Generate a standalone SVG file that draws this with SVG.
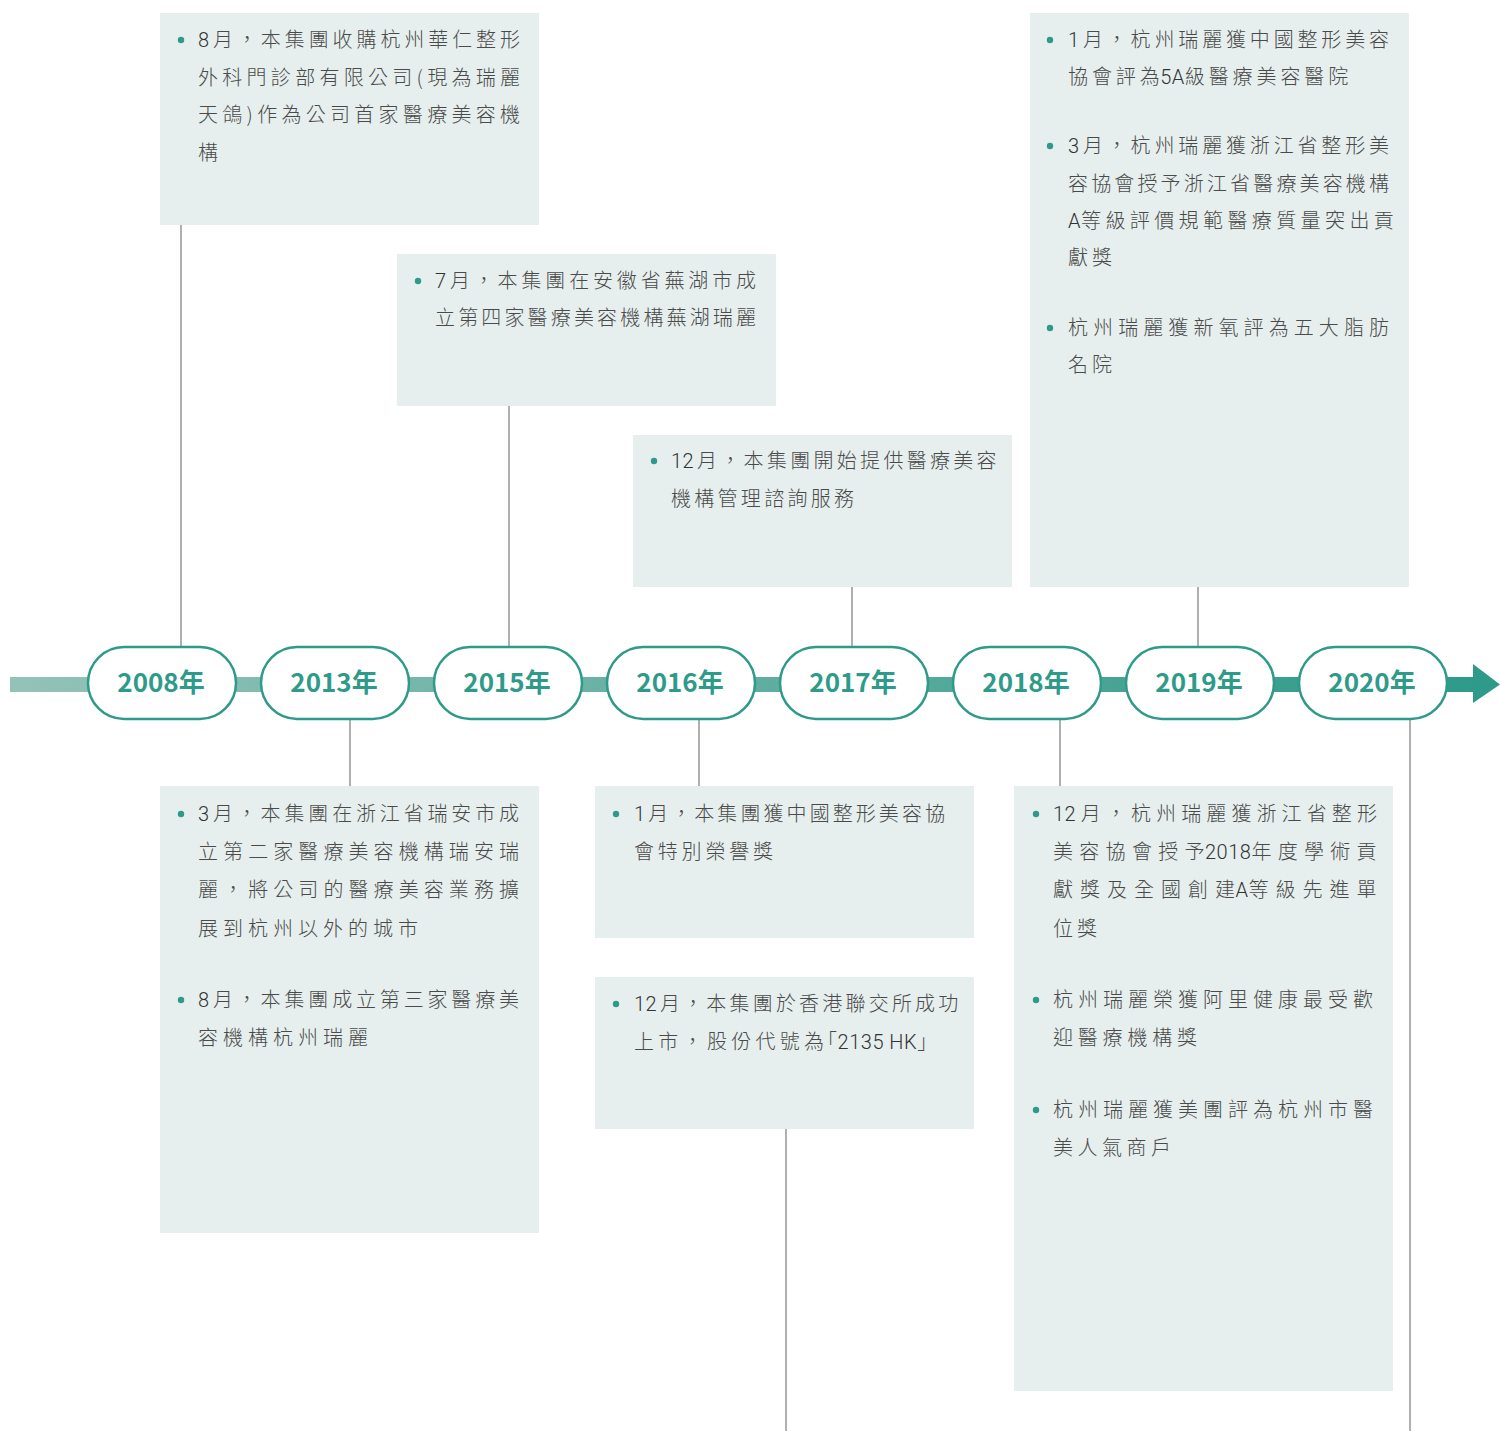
<svg xmlns="http://www.w3.org/2000/svg" width="1500" height="1431" viewBox="0 0 1500 1431">
<style>
.box{fill:#e6efee}
.ln{stroke:#7a7a7a;stroke-width:1.2;fill:none}
.pill{fill:#ffffff;stroke:#2e9a89;stroke-width:2.5}
.yr{font-family:"Noto Sans CJK TC","Noto Sans",sans-serif;font-weight:700;font-size:26px;fill:#2e9a89;text-anchor:middle}
.t{font-family:"Noto Sans CJK TC","Noto Sans",sans-serif;font-weight:300;font-size:20px;fill:#4a4a4a;letter-spacing:4px}
.d{font-family:Roboto,"Noto Sans CJK TC",sans-serif;font-weight:300;fill:#333333}
.b{fill:#2e9a89}
</style>
<defs>
<linearGradient id="bar" x1="10" y1="0" x2="1480" y2="0" gradientUnits="userSpaceOnUse">
<stop offset="0" stop-color="#93c2b8"/>
<stop offset="1" stop-color="#2e9a89"/>
</linearGradient>
</defs>
<rect x="0" y="0" width="1500" height="1431" fill="#ffffff"/>

<g id="connectors">
<line class="ln" x1="181" y1="225" x2="181" y2="646"/>
<line class="ln" x1="509" y1="406" x2="509" y2="646"/>
<line class="ln" x1="852" y1="587" x2="852" y2="646"/>
<line class="ln" x1="1198" y1="587" x2="1198" y2="646"/>
<line class="ln" x1="350" y1="720" x2="350" y2="786"/>
<line class="ln" x1="699" y1="720" x2="699" y2="786"/>
<line class="ln" x1="786" y1="1129" x2="786" y2="1431"/>
<line class="ln" x1="1060" y1="720" x2="1060" y2="786"/>
<line class="ln" x1="1410" y1="720" x2="1410" y2="1431"/>
</g>

<g id="timeline">
<rect x="10" y="677" width="1465" height="15" fill="url(#bar)"/>
<polygon points="1473,664 1500,684.5 1473,703" fill="#2e9a89"/>
</g>

<g id="year-2008"><rect class="pill" x="88" y="647" width="148" height="72" rx="36"/><text class="yr" x="161" y="692">2008年</text></g>
<g id="year-2013"><rect class="pill" x="261" y="647" width="148" height="72" rx="36"/><text class="yr" x="334" y="692">2013年</text></g>
<g id="year-2015"><rect class="pill" x="434" y="647" width="148" height="72" rx="36"/><text class="yr" x="507" y="692">2015年</text></g>
<g id="year-2016"><rect class="pill" x="607" y="647" width="148" height="72" rx="36"/><text class="yr" x="680" y="692">2016年</text></g>
<g id="year-2017"><rect class="pill" x="780" y="647" width="148" height="72" rx="36"/><text class="yr" x="853" y="692">2017年</text></g>
<g id="year-2018"><rect class="pill" x="953" y="647" width="148" height="72" rx="36"/><text class="yr" x="1026" y="692">2018年</text></g>
<g id="year-2019"><rect class="pill" x="1126" y="647" width="148" height="72" rx="36"/><text class="yr" x="1199" y="692">2019年</text></g>
<g id="year-2020"><rect class="pill" x="1299" y="647" width="148" height="72" rx="36"/><text class="yr" x="1372" y="692">2020年</text></g>

<g id="box-2008">
<rect class="box" x="160" y="13" width="379" height="212"/>
<circle class="b" cx="181" cy="40" r="3.2"/>
<text class="t" x="198" y="47" textLength="326" lengthAdjust="spacing"><tspan class="d">8</tspan>月，本集團收購杭州華仁整形</text>
<text class="t" x="198" y="84.5" textLength="326" lengthAdjust="spacing">外科門診部有限公司(現為瑞麗</text>
<text class="t" x="198" y="122" textLength="326" lengthAdjust="spacing">天鴿)作為公司首家醫療美容機</text>
<text class="t" x="198" y="159.5">構</text>
</g>

<g id="box-2015">
<rect class="box" x="397" y="254" width="379" height="152"/>
<circle class="b" cx="418" cy="281" r="3.2"/>
<text class="t" x="435" y="288" textLength="325" lengthAdjust="spacing"><tspan class="d">7</tspan>月，本集團在安徽省蕪湖市成</text>
<text class="t" x="435" y="325" textLength="325" lengthAdjust="spacing">立第四家醫療美容機構蕪湖瑞麗</text>
</g>

<g id="box-2017">
<rect class="box" x="633" y="435" width="379" height="152"/>
<circle class="b" cx="654" cy="461" r="3.2"/>
<text class="t" x="671" y="468" style="letter-spacing:3.3px"><tspan class="d" style="letter-spacing:0.5px">1</tspan><tspan class="d">2</tspan>月，本集團開始提供醫療美容</text>
<text class="t" x="671" y="506" textLength="187" lengthAdjust="spacing">機構管理諮詢服務</text>
</g>

<g id="box-2019">
<rect class="box" x="1030" y="13" width="379" height="574"/>
<circle class="b" cx="1050" cy="40" r="3.2"/>
<text class="t" x="1068" y="47" textLength="325" lengthAdjust="spacing"><tspan class="d">1</tspan>月，杭州瑞麗獲中國整形美容</text>
<text class="t" x="1068" y="84" style="letter-spacing:3.9px">協會評<tspan style="letter-spacing:0.5px">為<tspan class="d">5A</tspan></tspan>級醫療美容醫院</text>
<circle class="b" cx="1050" cy="146" r="3.2"/>
<text class="t" x="1068" y="153" textLength="325" lengthAdjust="spacing"><tspan class="d">3</tspan>月，杭州瑞麗獲浙江省整形美</text>
<text class="t" x="1068" y="191" textLength="325" lengthAdjust="spacing">容協會授予浙江省醫療美容機構</text>
<text class="t" x="1068" y="228" style="letter-spacing:4.4px"><tspan class="d" style="letter-spacing:0.5px">A</tspan>等級評價規範醫療質量突出貢</text>
<text class="t" x="1068" y="265">獻獎</text>
<circle class="b" cx="1050" cy="328" r="3.2"/>
<text class="t" x="1068" y="335" textLength="325" lengthAdjust="spacing">杭州瑞麗獲新氧評為五大脂肪</text>
<text class="t" x="1068" y="372">名院</text>
</g>

<g id="box-2013">
<rect class="box" x="160" y="786" width="379" height="447"/>
<circle class="b" cx="181" cy="814" r="3.2"/>
<text class="t" x="198" y="821" textLength="325" lengthAdjust="spacing"><tspan class="d">3</tspan>月，本集團在浙江省瑞安市成</text>
<text class="t" x="198" y="859" textLength="325" lengthAdjust="spacing">立第二家醫療美容機構瑞安瑞</text>
<text class="t" x="198" y="897" textLength="325" lengthAdjust="spacing">麗，將公司的醫療美容業務擴</text>
<text class="t" x="198" y="936" textLength="224" lengthAdjust="spacing">展到杭州以外的城市</text>
<circle class="b" cx="181" cy="1000" r="3.2"/>
<text class="t" x="198" y="1007" textLength="325" lengthAdjust="spacing"><tspan class="d">8</tspan>月，本集團成立第三家醫療美</text>
<text class="t" x="198" y="1045" textLength="174" lengthAdjust="spacing">容機構杭州瑞麗</text>
</g>

<g id="box-2016a">
<rect class="box" x="595" y="786" width="379" height="152"/>
<circle class="b" cx="616" cy="814" r="3.2"/>
<text class="t" x="634" y="821" textLength="315" lengthAdjust="spacing"><tspan class="d">1</tspan>月，本集團獲中國整形美容協</text>
<text class="t" x="634" y="859" textLength="143" lengthAdjust="spacing">會特別榮譽獎</text>
</g>

<g id="box-2016b">
<rect class="box" x="595" y="977" width="379" height="152"/>
<circle class="b" cx="616" cy="1004" r="3.2"/>
<text class="t" x="634" y="1011" style="letter-spacing:3.2px"><tspan class="d" style="letter-spacing:0.5px">1</tspan><tspan class="d">2</tspan>月，本集團於香港聯交所成功</text>
<text class="t" x="634" y="1049" style="letter-spacing:4.3px">上市，股份代號<tspan style="letter-spacing:-7px">為</tspan><tspan style="letter-spacing:0.5px">「<tspan class="d">2135 HK</tspan>」</tspan></text>
</g>

<g id="box-2018">
<rect class="box" x="1014" y="786" width="379" height="605"/>
<circle class="b" cx="1036" cy="814" r="3.2"/>
<text class="t" x="1053" y="821" style="letter-spacing:5.1px"><tspan class="d" style="letter-spacing:0.5px">1</tspan><tspan class="d">2</tspan>月，杭州瑞麗獲浙江省整形</text>
<text class="t" x="1053" y="859" style="letter-spacing:6.3px">美容協會授<tspan style="letter-spacing:0.5px">予<tspan class="d">2018</tspan></tspan>年度學術貢</text>
<text class="t" x="1053" y="897" style="letter-spacing:7px">獻獎及全國創<tspan style="letter-spacing:0.5px">建<tspan class="d">A</tspan></tspan>等級先進單</text>
<text class="t" x="1053" y="936">位獎</text>
<circle class="b" cx="1036" cy="1000" r="3.2"/>
<text class="t" x="1053" y="1007" textLength="324" lengthAdjust="spacing">杭州瑞麗榮獲阿里健康最受歡</text>
<text class="t" x="1053" y="1045" textLength="148" lengthAdjust="spacing">迎醫療機構獎</text>
<circle class="b" cx="1036" cy="1110" r="3.2"/>
<text class="t" x="1053" y="1117" textLength="324" lengthAdjust="spacing">杭州瑞麗獲美團評為杭州市醫</text>
<text class="t" x="1053" y="1155" textLength="122" lengthAdjust="spacing">美人氣商戶</text>
</g>
</svg>
